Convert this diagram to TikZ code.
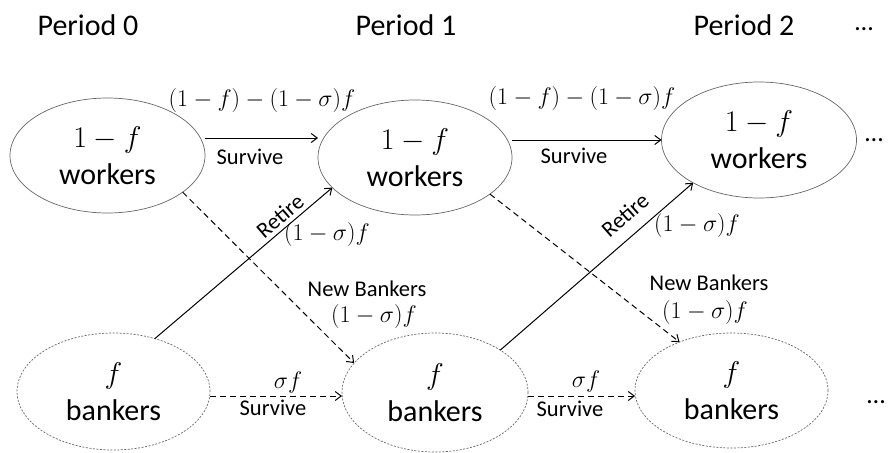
\RequirePackage{fix-cm}
\documentclass[tikz,border=0pt]{standalone}
\usepackage{fontspec}
\setmainfont{Carlito}
\usetikzlibrary{shapes.geometric,arrows.meta,calc}
\begin{document}
\begin{tikzpicture}[x=1pt,y=-1pt,
  every node/.style={inner sep=0pt, outer sep=0pt},
  popnode/.style={ellipse, draw=black!60, line width=0.7pt, align=center,
    font=\fontsize{30}{37}\selectfont},
  banknode/.style={popnode, dash pattern=on 2pt off 1.5pt},
  flow/.style={line width=1pt, -{Straight Barb[length=6pt,width=9pt]}},
  newflow/.style={flow, dash pattern=on 6pt off 4pt},
  lbl/.style={font=\fontsize{22.5}{26}\selectfont},
  mlbl/.style={font=\fontsize{24}{28}\selectfont},
  period/.style={font=\fontsize{30}{36}\selectfont},
  dotsnode/.style={font=\fontsize{26}{30}\selectfont, anchor=base}
]
\useasboundingbox (0,0) rectangle (890,452);

% period headers
\node[period] (p0) at (88,25) {Period 0};
\node[period] (p1) at (406,25) {Period 1};
\node[period] (p2) at (744,25) {Period 2};
\node[dotsnode] (d0) at (864,31) {…};

% populations
\node[popnode, minimum width=195pt, minimum height=115pt] (W0) at (107.5,155.5) {$1-f$\\workers};
\node[popnode, minimum width=194pt, minimum height=115pt] (W1) at (415,157.5) {$1-f$\\workers};
\node[popnode, minimum width=195pt, minimum height=116pt] (W2) at (759,140) {$1-f$\\workers};
\node[banknode, minimum width=193pt, minimum height=117pt] (B0) at (113.5,391.5) {$f$\\bankers};
\node[banknode, minimum width=186pt, minimum height=119pt] (B1) at (435,392.5) {$f$\\bankers};
\node[banknode, minimum width=193pt, minimum height=115pt] (B2) at (731.5,390.5) {$f$\\bankers};

\node[dotsnode] (d1) at (874,141) {…};
\node[dotsnode] (d2) at (876,403) {…};

% flows
\draw[flow] ([yshift=17.5pt]W0.east) -- ([yshift=17.5pt]W0.east -| W1.west);
\draw[flow] ([yshift=17.5pt]W1.east) -- ([yshift=17.5pt]W1.east -| W2.west);
\draw[newflow] ([yshift=-4.5pt]B0.east) -- ([yshift=-4.5pt]B0.east -| B1.west);
\draw[newflow] ([yshift=-3.5pt]B1.east) -- ([yshift=-3.5pt]B1.east -| B2.west);
\draw[newflow] (W0.-26) -- (B1.160);
\draw[newflow] (W1.-26) -- (B2.137);
\draw[flow] (B0.52) -- (W1.200);
\draw[flow] (B1.33) -- (W2.213);

% labels
\node[mlbl] (l1) at (262,100) {$(1-f)-(1-\sigma)f$};
\node[mlbl] (l2) at (582,99) {$(1-f)-(1-\sigma)f$};
\node[lbl] (s1) at (250,157) {Survive};
\node[lbl] (s2) at (574,156) {Survive};
\node[lbl, rotate=40.6] (r1) at (280,216) {Retire};
\node[mlbl] (m1) at (327,234) {$(1-\sigma)f$};
\node[lbl] (nb1) at (367,289) {New Bankers};
\node[mlbl] (m2) at (374,316) {$(1-\sigma)f$};
\node[lbl, rotate=41.3] (r2) at (625,215) {Retire};
\node[mlbl] (m3) at (697,225) {$(1-\sigma)f$};
\node[lbl] (nb2) at (709,283) {New Bankers};
\node[mlbl] (m4) at (705,312) {$(1-\sigma)f$};
\node[mlbl] (sf1) at (288,382) {$\sigma f$};
\node[lbl] (s3) at (273,408) {Survive};
\node[mlbl] (sf2) at (586,381) {$\sigma f$};
\node[lbl] (s4) at (570,409) {Survive};
\end{tikzpicture}
\end{document}
